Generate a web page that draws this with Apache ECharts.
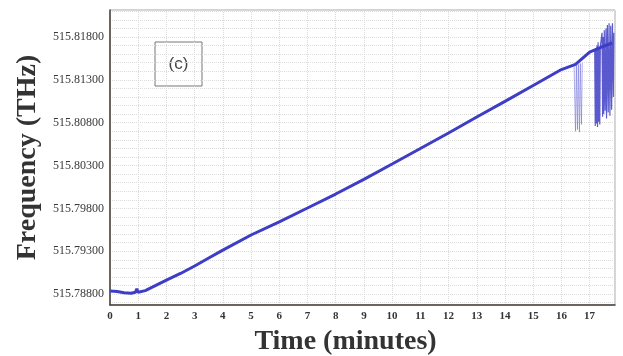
<!DOCTYPE html>
<html>
<head>
<meta charset="utf-8">
<script src="https://cdn.jsdelivr.net/npm/echarts@6/dist/echarts.min.js"></script>
<style>
  html, body { margin: 0; padding: 0; background: #fff; }
  #chart { width: 623px; height: 356px; }
</style>
</head>
<body>
<div id="chart"></div>
<script>
  // main trace, time in minutes / frequency in THz
  const minutes = [0, 0.25, 0.5, 0.75, 0.9, 0.95, 1.0, 1.25, 1.5, 2, 2.5, 3, 3.5, 4, 5, 6, 7, 8, 9, 10,
    11, 12, 13, 14, 15, 16, 16.5, 17, 17.4, 17.8];
  const freq = [515.78835, 515.7883, 515.78815, 515.7881, 515.7882, 515.7886, 515.7882, 515.7884, 515.7888,
    515.78963, 515.7904, 515.79127, 515.7922, 515.79313, 515.79489, 515.79643, 515.79804, 515.79967,
    515.80139, 515.80317, 515.80498, 515.80679, 515.80866, 515.81048, 515.81234, 515.8142, 515.8148,
    515.81624, 515.8168, 515.8173];

  // faint glitches around 16.5 min
  const lightMinutes = [16.45, 16.5, 16.53, 16.57, 16.6, 16.64, 16.67, 16.71, 16.74];
  const lightFreq = [515.8146, 515.807, 515.8147, 515.8072, 515.8148, 515.8069, 515.8149, 515.8078, 515.815];

  // dense glitches near the end
  const darkMinutes = [17.18, 17.2, 17.22, 17.24, 17.26, 17.28, 17.3, 17.32, 17.34, 17.36, 17.38,
    17.44, 17.46, 17.48, 17.5, 17.52, 17.55, 17.58, 17.6, 17.63, 17.66, 17.69, 17.72, 17.75, 17.78,
    17.81, 17.84, 17.86];
  const darkFreq = [515.8166, 515.8076, 515.8167, 515.8079, 515.817, 515.8075, 515.8174, 515.8081, 515.8168,
    515.8078, 515.8169, 515.8185, 515.8087, 515.818, 515.809, 515.8188, 515.8094, 515.819, 515.8085,
    515.8194, 515.8092, 515.8196, 515.8088, 515.8193, 515.8095, 515.8196, 515.811, 515.8185];

  const labelBase = 515.788;
  const labelStep = 0.005;

  function pairs(xs, ys) {
    return xs.map((x, i) => [x, ys[i]]);
  }

  const chart = echarts.init(document.getElementById('chart'));
  const serif = '"Liberation Serif", "DejaVu Serif", serif';

  chart.setOption({
    animation: false,
    backgroundColor: '#fff',
    grid: {
      left: 110, top: 10, right: 8, bottom: 51,
      outerBoundsMode: 'none',
      containLabel: false,
      show: true, borderColor: '#a8a8a8', borderWidth: 1
    },
    xAxis: {
      type: 'value',
      min: 0,
      max: 17.9,
      interval: 1,
      name: 'Time (minutes)',
      nameLocation: 'middle',
      nameGap: 23,
      nameTextStyle: {
        fontFamily: serif, fontSize: 28, fontWeight: 'bold', color: '#333',
        padding: [0, 34, 0, 0]
      },
      axisLine: { lineStyle: { color: '#4a4038', width: 1.5 } },
      axisTick: { show: false },
      axisLabel: {
        showMaxLabel: false,
        fontFamily: serif, fontSize: 11, fontWeight: 'bold', color: '#333', margin: 6
      },
      splitLine: { show: true, lineStyle: { color: '#d9d9d9', type: 'dotted' } }
    },
    yAxis: {
      type: 'value',
      min: 515.78672,
      max: 515.82115,
      splitNumber: 34,
      minInterval: 0.001,
      maxInterval: 0.001,
      name: 'Frequency (THz)',
      nameLocation: 'middle',
      nameGap: 65,
      nameTextStyle: { fontFamily: serif, fontSize: 28, fontWeight: 'bold', color: '#333' },
      axisLine: { show: true, lineStyle: { color: '#4a4038', width: 1.5 } },
      axisTick: { show: false },
      axisLabel: {
        fontFamily: serif, fontSize: 12, color: '#3a3a3a', margin: 6,
        formatter: function (v) {
          const k = (v - labelBase) / labelStep;
          if (Math.abs(k - Math.round(k)) < 1e-3) return v.toFixed(5);
          return '';
        }
      },
      splitLine: { show: true, lineStyle: { color: '#dcdcdc', type: 'dotted' } }
    },
    series: [
      {
        name: 'glitch-light',
        type: 'line',
        showSymbol: false,
        data: pairs(lightMinutes, lightFreq),
        lineStyle: { color: '#6a6ad8', width: 1, opacity: 0.55 }
      },
      {
        name: 'frequency',
        type: 'line',
        showSymbol: false,
        data: pairs(minutes, freq),
        lineStyle: { color: '#3d3dc6', width: 3 }
      },
      {
        name: 'glitch',
        type: 'line',
        showSymbol: false,
        data: pairs(darkMinutes, darkFreq),
        lineStyle: { color: '#3d3dc6', width: 1.2, opacity: 0.85 }
      }
    ],
    graphic: [
      {
        type: 'rect',
        shape: { x: 155, y: 42, width: 47, height: 44 },
        style: { fill: '#fff', stroke: '#777', lineWidth: 1 }
      },
      {
        type: 'text',
        x: 178.5, y: 64,
        style: {
          text: '(c)', font: '17px "Liberation Sans", Arial, sans-serif', fill: '#444',
          align: 'center', verticalAlign: 'middle'
        }
      }
    ]
  });
</script>
</body>
</html>
